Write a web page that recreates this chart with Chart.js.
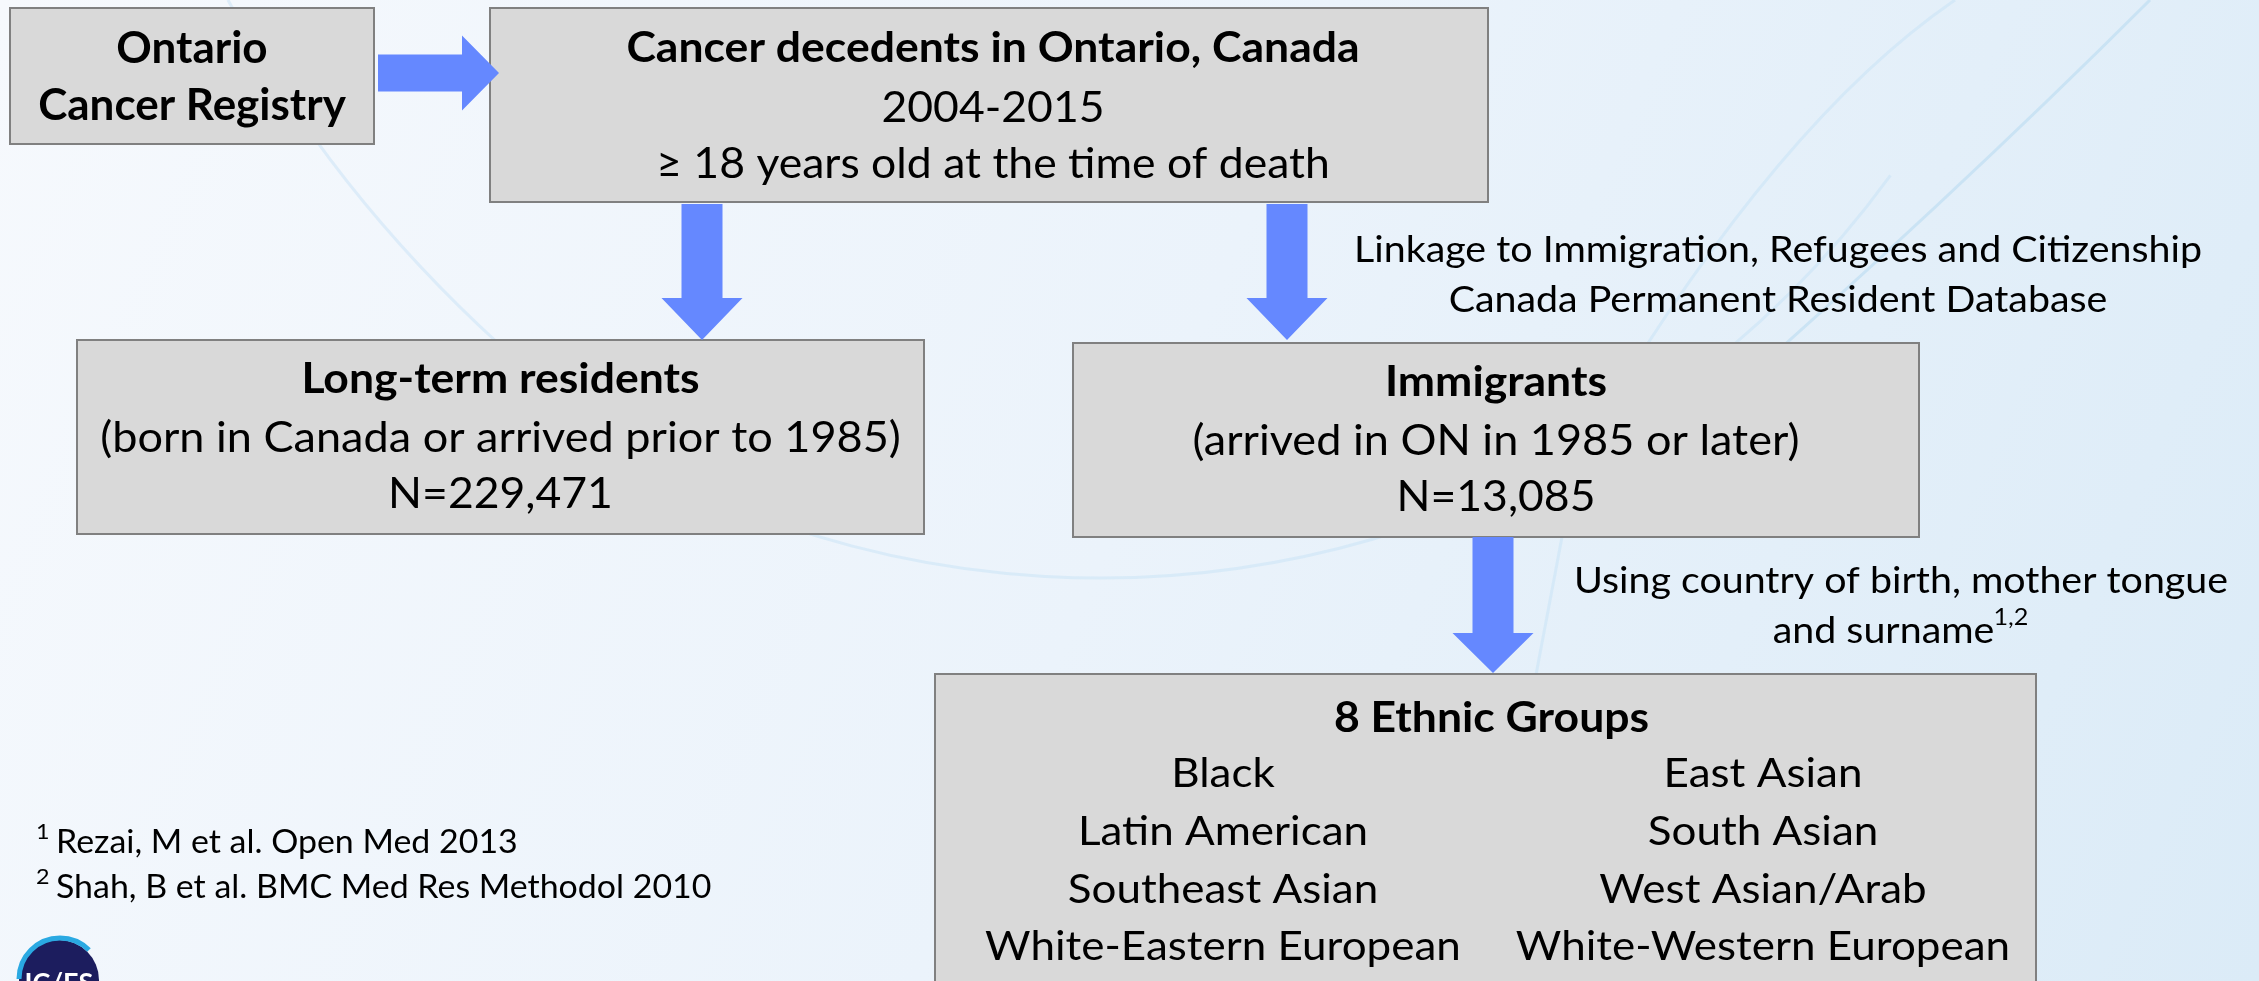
<!DOCTYPE html>
<html>
<head>
<meta charset="utf-8">
<script src="https://cdn.jsdelivr.net/npm/chart.js@4.4.1/dist/chart.umd.min.js"></script>
<style>
  html, body { margin: 0; padding: 0; overflow: hidden; background: #f3f7fc; }
  #wrap { width: 2259px; height: 981px; }
</style>
</head>
<body>
<div id="wrap"><canvas id="flow" width="2259" height="981"></canvas></div>
<script>
// chart content
const sourceLines = ['Ontario', 'Cancer Registry'];
const cohortLines = ['Cancer decedents in Ontario, Canada', '2004-2015', '\u2265 18 years old at the time of death'];
const groupNames = ['Long-term residents', 'Immigrants'];
const groupNotes = ['(born in Canada or arrived prior to 1985)', '(arrived in ON in 1985 or later)'];
const groupCounts = [229471, 13085];
const linkageLines = ['Linkage to Immigration, Refugees and Citizenship', 'Canada Permanent Resident Database'];
const methodLines = ['Using country of birth, mother tongue', 'and surname'];
const methodRefs = '1,2';
const ethnicTitle = '8 Ethnic Groups';
const ethnicGroups = ['Black', 'East Asian', 'Latin American', 'South Asian',
  'Southeast Asian', 'West Asian/Arab', 'White-Eastern European', 'White-Western European'];
const references = ['Rezai, M et al. Open Med 2013', 'Shah, B et al. BMC Med Res Methodol 2010'];

// layout, in slide units (x 0..2259, y 0..981 going down)
const boxes = {
  source: [10, 8, 374, 144],
  cohort: [490, 8, 1488, 202],
  longTerm: [77, 340, 924, 534],
  immig: [1073, 343, 1919, 537],
  ethnic: [935, 674, 2036, 1010]
};
const arrows = [
  { from: [378, 73], to: [499, 73], shaft: 37, head: 75, len: 37 },
  { from: [702, 204], to: [702, 340], shaft: 41, head: 81, len: 42 },
  { from: [1287, 204], to: [1287, 340], shaft: 41, head: 81, len: 42 },
  { from: [1493, 537], to: [1493, 673], shaft: 41, head: 81, len: 40 }
];

const FONT = 'Lato';
const STRETCH = 1.06;
const BOX_FILL = '#d9d9d9';
const BOX_LINE = '#808080';
const ARROW = '#6588ff';

const flowPlugin = {
  id: 'flow',
  beforeDraw(chart) {
    const ctx = chart.ctx;
    const g = ctx.createLinearGradient(0, 0, chart.width, chart.height);
    g.addColorStop(0, '#f6f9fd');
    g.addColorStop(0.5, '#ebf3fb');
    g.addColorStop(1, '#dbebf7');
    ctx.save();
    ctx.fillStyle = g;
    ctx.fillRect(0, 0, chart.width, chart.height);
    ctx.restore();
  },
  afterDraw(chart) {
    const ctx = chart.ctx;
    const xs = chart.scales.x, ys = chart.scales.y;
    const px = v => xs.getPixelForValue(v);
    const py = v => ys.getPixelForValue(v);

    // faint decorative swooshes in the background
    ctx.save();
    ctx.lineWidth = 3;
    ctx.strokeStyle = 'rgba(200,226,245,0.5)';
    ctx.beginPath();
    ctx.moveTo(px(228), py(0));
    ctx.quadraticCurveTo(px(330), py(190), px(500), py(345));
    ctx.stroke();
    ctx.strokeStyle = 'rgba(178,215,240,0.5)';
    ctx.beginPath();
    ctx.moveTo(px(2150), py(0));
    ctx.quadraticCurveTo(px(1950), py(200), px(1700), py(420));
    ctx.stroke();
    ctx.strokeStyle = 'rgba(190,222,244,0.4)';
    ctx.beginPath();
    ctx.moveTo(px(1955), py(0));
    ctx.quadraticCurveTo(px(1780), py(120), px(1600), py(420));
    ctx.stroke();
    ctx.beginPath();
    ctx.moveTo(px(1562), py(537));
    ctx.lineTo(px(1535), py(680));
    ctx.stroke();
    ctx.beginPath();
    ctx.arc(px(1100), py(-399), xs.getPixelForValue(977) - xs.getPixelForValue(0),
      Math.PI * 0.62, Math.PI * 0.2, true);
    ctx.stroke();
    ctx.restore();

    function box(b) {
      const x0 = px(b[0]), y0 = py(b[1]), x1 = px(b[2]), y1 = py(b[3]);
      ctx.save();
      ctx.fillStyle = BOX_FILL;
      ctx.fillRect(x0, y0, x1 - x0, y1 - y0);
      ctx.lineWidth = 2;
      ctx.strokeStyle = BOX_LINE;
      ctx.strokeRect(x0, y0, x1 - x0, y1 - y0);
      ctx.restore();
    }

    function arrow(a) {
      const x0 = px(a.from[0]), y0 = py(a.from[1]);
      const x1 = px(a.to[0]), y1 = py(a.to[1]);
      const ang = Math.atan2(y1 - y0, x1 - x0);
      const L = Math.hypot(x1 - x0, y1 - y0);
      ctx.save();
      ctx.translate(x0, y0);
      ctx.rotate(ang);
      ctx.fillStyle = ARROW;
      ctx.beginPath();
      ctx.moveTo(0, -a.shaft / 2);
      ctx.lineTo(L - a.len, -a.shaft / 2);
      ctx.lineTo(L - a.len, -a.head / 2);
      ctx.lineTo(L, 0);
      ctx.lineTo(L - a.len, a.head / 2);
      ctx.lineTo(L - a.len, a.shaft / 2);
      ctx.lineTo(0, a.shaft / 2);
      ctx.closePath();
      ctx.fill();
      ctx.restore();
    }

    function text(str, x, y, size, bold, align, stretch) {
      const sx = stretch || STRETCH;
      ctx.save();
      ctx.font = (bold ? 'bold ' : '') + size + 'px ' + FONT;
      ctx.fillStyle = '#000';
      ctx.textAlign = align || 'center';
      ctx.textBaseline = 'alphabetic';
      ctx.translate(px(x), py(y));
      ctx.scale(sx, 1);
      ctx.fillText(str, 0, 0);
      ctx.restore();
    }

    function width(str, size, bold, stretch) {
      ctx.save();
      ctx.font = (bold ? 'bold ' : '') + size + 'px ' + FONT;
      const w = ctx.measureText(str).width * (stretch || STRETCH);
      ctx.restore();
      return w;
    }

    Object.values(boxes).forEach(box);
    arrows.forEach(arrow);

    // source box
    text(sourceLines[0], 192, 63, 44, true, 'center', 1);
    text(sourceLines[1], 192, 120, 44, true, 'center', 1);

    // cohort box
    text(cohortLines[0], 993, 62, 42, true);
    text(cohortLines[1], 993, 122, 42, false);
    text(cohortLines[2], 993, 178, 42, false);

    // two groups
    const fmt = n => 'N=' + n.toLocaleString('en-US');
    const groupBoxes = [boxes.longTerm, boxes.immig];
    groupBoxes.forEach((b, i) => {
      const cx = (b[0] + b[2]) / 2;
      const top = b[1];
      text(groupNames[i], cx, top + 53, 42, true);
      text(groupNotes[i], cx, top + 112, 42.5, false);
      text(fmt(groupCounts[i]), cx, top + 168, 42, false);
    });

    // linkage note
    text(linkageLines[0], 1778, 262, 37.5, false, 'center', 1.05);
    text(linkageLines[1], 1778, 312, 37.5, false, 'center', 1.05);

    // method note with superscript refs
    text(methodLines[0], 1901, 593, 37.5, false, 'center', 1.05);
    const wMain = width(methodLines[1], 37.5, false, 1.05);
    const wSup = width(methodRefs, 24, false, 1.05);
    const startX = 1901 - (wMain + wSup) / 2;
    text(methodLines[1], startX, 643, 37.5, false, 'left', 1.05);
    text(methodRefs, startX + wMain - 1, 625, 24, false, 'left', 1.05);

    // ethnic groups box
    const eb = boxes.ethnic;
    text(ethnicTitle, (eb[0] + eb[2]) / 2 + 6, 732, 42, true);
    const cols = [1223, 1763];
    const rows = [787, 845, 903, 960];
    ethnicGroups.forEach((g, i) => {
      text(g, cols[i % 2], rows[Math.floor(i / 2)], 41.5, false);
    });

    // references
    const refBase = [853, 898];
    references.forEach((r, i) => {
      text(String(i + 1), 36, refBase[i] - 14, 22, false, 'left');
      text(r, 56, refBase[i], 32, false, 'left');
    });

    // logo
    ctx.save();
    const lx = px(59), ly = py(980);
    ctx.fillStyle = '#1c1d5e';
    ctx.beginPath();
    ctx.arc(lx, ly, 40, 0, Math.PI * 2);
    ctx.fill();
    ctx.strokeStyle = '#2aa9e2';
    ctx.lineWidth = 5;
    ctx.beginPath();
    ctx.arc(lx + 1, ly - 1, 41, Math.PI * 1.0, Math.PI * 1.75);
    ctx.stroke();
    ctx.fillStyle = '#ffffff';
    ctx.font = 'bold 27px ' + FONT;
    ctx.textAlign = 'center';
    ctx.fillText('IC/ES', lx, ly + 12);
    ctx.restore();
  }
};

const chart = new Chart(document.getElementById('flow'), {
  type: 'scatter',
  data: { datasets: [] },
  options: {
    responsive: false,
    animation: false,
    layout: { padding: 0 },
    scales: {
      x: { type: 'linear', min: 0, max: 2259, display: false },
      y: { type: 'linear', min: 0, max: 981, reverse: true, display: false }
    },
    plugins: {
      legend: { display: false },
      tooltip: { enabled: false }
    }
  },
  plugins: [flowPlugin]
});
</script>
</body>
</html>
